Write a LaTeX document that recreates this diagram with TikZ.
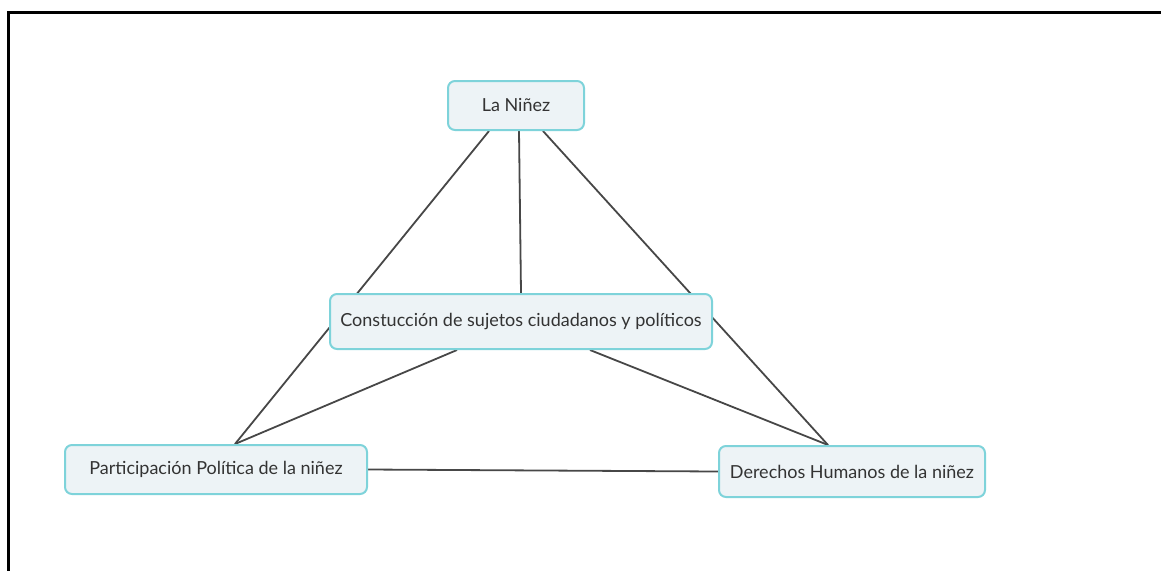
\documentclass[tikz,border=0pt]{standalone}
\usepackage{fontspec}
\setmainfont{Lato}
\usetikzlibrary{positioning,backgrounds}
\definecolor{conceptFill}{HTML}{EDF3F6}
\definecolor{conceptLine}{HTML}{7ED3DA}
\definecolor{linkLine}{HTML}{474747}
\definecolor{conceptText}{HTML}{333333}
\begin{document}
\begin{tikzpicture}[x=1pt,y=-1pt]

\tikzstyle{concept} = [draw=conceptLine, line width=2pt, rounded corners=7pt, fill=conceptFill, rectangle, minimum height=49pt, text=conceptText, font={\fontsize{18}{21}\selectfont}, inner sep=0pt];
\tikzstyle{link} = [linkLine, line width=1.8pt];

\useasboundingbox (0,0) rectangle (1161,571);
% marco
\draw[line width=3pt] (7,12.5) -- (1161,12.5);
\draw[line width=3pt] (8.5,11) -- (8.5,571);

\node[concept, name=ninez, minimum width=136pt] at (516,105.5) {La Niñez};
\node[concept, name=construccion, minimum width=382pt, minimum height=55pt, below of=ninez, node distance=216pt, xshift=5pt] {Constucción de sujetos ciudadanos y políticos};
\node[concept, name=participacion, minimum width=302pt, below of=construccion, node distance=148pt, xshift=-305pt] {Participación Política de la niñez};
\node[concept, name=derechos, minimum width=266pt, minimum height=51pt, below of=construccion, node distance=150pt, xshift=331pt] {Derechos Humanos de la niñez};

\begin{scope}[on background layer]
\draw[link] ([xshift=-27pt]ninez.south) -- ([xshift=19pt]participacion.north);
\draw[link] ([xshift=3pt]ninez.south) -- (construccion.north);
\draw[link] ([xshift=27pt]ninez.south) -- ([xshift=-24pt]derechos.north);
\draw[link] ([xshift=-64pt]construccion.south) -- ([xshift=19pt]participacion.north);
\draw[link] ([xshift=69pt]construccion.south) -- ([xshift=-24pt]derechos.north);
\draw[link] (participacion.east) -- (derechos.west);
\end{scope}
\end{tikzpicture}
\end{document}
